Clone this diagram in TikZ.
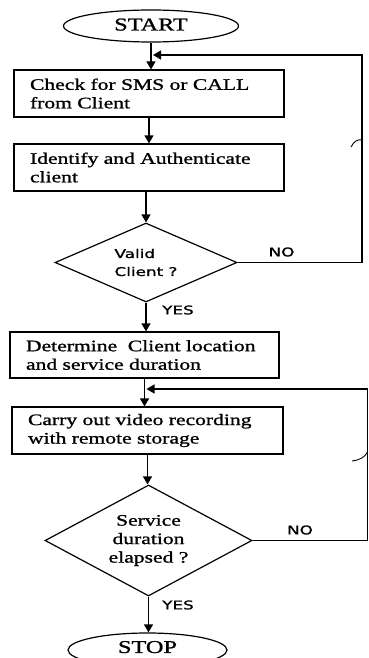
\documentclass[tikz,border=0pt]{standalone}
\usepackage{fontspec}
\setmainfont{Liberation Serif}[FakeStretch=1.35,FakeBold=1.2]
\newfontfamily\sanslabel{DejaVu Sans}[FakeStretch=1.4,FakeBold=1.2]
\usetikzlibrary{shapes.geometric,arrows.meta}

\begin{document}
\begin{tikzpicture}[x=1pt,y=1pt,yscale=-1,line width=1.2pt,
  terminal/.style={draw,ellipse,inner sep=0pt,font=\fontsize{18}{20}\selectfont},
  procbox/.style={draw,rectangle,minimum height=47pt,inner xsep=16pt,text width=#1,align=left,font=\fontsize{16}{18.5}\selectfont},
  decision/.style={draw,diamond,inner sep=0pt},
  flow/.style={-{Triangle[length=8pt,width=9pt]}},
  yesno/.style={font=\sanslabel\fontsize{12}{14}\selectfont,inner sep=0pt}]
\useasboundingbox (0,0) rectangle (369,658);
\clip (0,0) rectangle (369,658);
%Shape: Ellipse [id:start]
\node[terminal,minimum width=175pt,minimum height=32pt] (start) at (151,26) {\raisebox{3pt}{START}};
%Shape: Rectangle [id:check]
\node[procbox=238pt] (check) at (149,93.5) {Check for SMS or CALL\\from Client};
%Shape: Rectangle [id:ident]
\node[procbox=238pt] (ident) at (149,167.5) {Identify and Authenticate\\client};
%Shape: Diamond [id:valid]
\node[decision,minimum width=182pt,minimum height=79pt,shape aspect=2.3,align=left,font=\sanslabel\fontsize{12}{18}\selectfont] (valid) at (146,262.5) {Valid\\Client ?};
%Shape: Rectangle [id:locate]
\node[procbox=237pt,minimum height=46pt] (locate) at (144.5,355) {Determine\ \ Client location\\and service duration};
%Shape: Rectangle [id:record]
\node[procbox=239pt] (record) at (147.5,430.5) {Carry out video recording\\with remote storage};
%Shape: Diamond [id:elapsed]
\node[decision,minimum width=207pt,minimum height=111pt,shape aspect=1.86,align=center,font=\fontsize{16}{18.5}\selectfont] (elapsed) at (148.5,540.5) {Service\\duration\\elapsed ?};
%Shape: Ellipse [id:stop]
\node[terminal,minimum width=159pt,minimum height=34pt] (stop) at (147.5,650) {\raisebox{6pt}{STOP}};
%Straight Lines
\coordinate (loop1) at (362,55);
\coordinate (loop2) at (367.5,389);
\draw[flow] (start.south) -- (start.south |- check.north);
\draw[flow] (check.south) -- (check.south |- ident.north);
\draw[flow] (valid.north |- ident.south) -- (valid.north);
\draw[flow] (valid.south) -- (valid.south |- locate.north);
\draw[flow] (locate.south) -- (locate.south |- record.north);
\draw[flow] (record.south) -- (record.south |- elapsed.north);
\draw[flow] (elapsed.south) -- (elapsed.south |- stop.north);
\draw[flow,shorten >=2pt] (valid.east) -| (loop1) -- (start.south |- loop1);
\draw[flow,shorten >=2pt] (elapsed.east) -| (loop2) -- (locate.south |- loop2);
%Line hops
\draw[line width=0.9pt] (351,147) .. controls (354,141) and (358,139) .. (362,140);
\draw[line width=0.9pt] (352,461) .. controls (360,460) and (365,457) .. (367.5,452);
% Text Node
\node[yesno] (no1) at (281.5,252) {NO};
\node[yesno] (yes1) at (178,310) {YES};
\node[yesno] (no2) at (300,530) {NO};
\node[yesno] (yes2) at (178,605) {YES};
\end{tikzpicture}
\end{document}
